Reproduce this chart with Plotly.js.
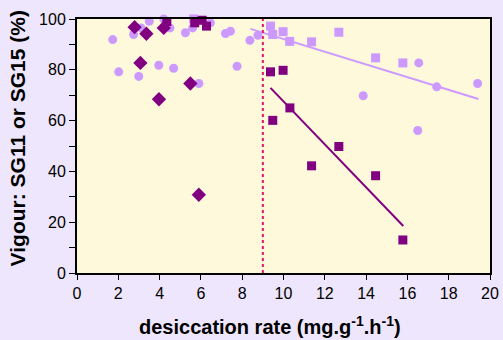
<!DOCTYPE html>
<html>
<head>
<meta charset="utf-8">
<script src="https://cdn.plot.ly/plotly-3.0.1.min.js"></script>
<style>html,body{margin:0;padding:0;background:#EEE6FC;}</style>
</head>
<body>
<div id="chart" style="width:503px;height:340px;"></div>
<script>
// Light circles
var lcX = [1.73, 2.02, 2.99, 2.74, 3.1, 3.5, 3.96, 4.2, 4.5, 4.68, 5.25, 5.6, 5.9, 6.46, 7.19, 7.43, 7.75, 8.37, 8.76, 13.86, 16.55, 16.5, 17.42, 19.4];
var lcY = [91.9, 79.2, 77.4, 93.9, 96.5, 99.1, 81.8, 100, 96.5, 80.6, 94.6, 96.5, 74.6, 98.5, 94.3, 95.2, 81.4, 91.6, 93.6, 69.8, 82.7, 56.1, 73.3, 74.6];
// Light squares
var lsX = [5.65, 9.37, 9.48, 9.98, 10.3, 11.36, 12.68, 14.46, 15.78];
var lsY = [100, 97.2, 93.9, 95.0, 91.2, 91.0, 94.8, 84.7, 82.7];
// Dark diamonds
var ddX = [2.79, 3.07, 3.36, 3.97, 4.2, 5.49, 5.9];
var ddY = [96.8, 82.7, 94.2, 68.4, 96.5, 74.6, 30.8];
// Dark squares
var dsX = [4.35, 5.7, 6.06, 6.27, 9.37, 9.48, 9.98, 10.31, 11.36, 12.68, 14.46, 15.78];
var dsY = [99, 98.5, 99.5, 97.2, 79.2, 60.1, 79.8, 65.0, 42.2, 49.8, 38.3, 13.0];
// Trend lines
var lightTrendX = [8.4, 19.44];
var lightTrendY = [96.1, 68.5];
var darkTrendX = [9.37, 15.8];
var darkTrendY = [72.9, 18.5];
// Threshold
var thresholdX = 9.0;

var light = '#CC99FF', dark = '#800080';

var traces = [
  {x: lightTrendX, y: lightTrendY, mode: 'lines', line: {color: light, width: 2}, cliponaxis: false},
  {x: darkTrendX, y: darkTrendY, mode: 'lines', line: {color: dark, width: 2}, cliponaxis: false},
  {x: [thresholdX, thresholdX], y: [0, 100], mode: 'lines', line: {color: '#E0186C', width: 2, dash: 'dot'}},
  {x: lcX, y: lcY, mode: 'markers', marker: {symbol: 'circle', size: 9, color: light}, cliponaxis: false},
  {x: lsX, y: lsY, mode: 'markers', marker: {symbol: 'square', size: 9, color: light}, cliponaxis: false},
  {x: ddX, y: ddY, mode: 'markers', marker: {symbol: 'diamond', size: 11, color: dark}, cliponaxis: false},
  {x: dsX, y: dsY, mode: 'markers', marker: {symbol: 'square', size: 9, color: dark}, cliponaxis: false}
];

var layout = {
  width: 503, height: 340,
  margin: {l: 77, r: 13, t: 19, b: 67},
  paper_bgcolor: '#EEE6FC',
  plot_bgcolor: '#FFF9DC',
  showlegend: false,
  font: {family: 'Liberation Sans, Arial, sans-serif', color: '#000', size: 16},
  xaxis: {
    range: [0, 20], dtick: 2, tick0: 0, ticks: 'outside', ticklen: 5, tickcolor: '#000',
    showgrid: false, zeroline: false, showline: true, linecolor: '#000', linewidth: 2, mirror: true,
    tickfont: {size: 16}
  },
  yaxis: {
    range: [0, 100], dtick: 20, tick0: 0, ticks: 'outside', ticklen: 6, tickcolor: '#000',
    minor: {dtick: 10, ticks: 'outside', ticklen: 6, tickcolor: '#000'},
    showgrid: false, zeroline: false, showline: true, linecolor: '#000', linewidth: 2, mirror: true,
    tickfont: {size: 16}
  },
  annotations: [{
    text: '<b>Vigour: SG11 or SG15 (%)</b>', textangle: -90, showarrow: false,
    xref: 'paper', yref: 'paper', x: 0, y: 0.53, xanchor: 'center', yanchor: 'middle',
    xshift: -60, font: {size: 21}
  }, {
    text: '<b>desiccation rate (mg.g<sup>-1</sup>.h<sup>-1</sup>)</b>', showarrow: false,
    xref: 'paper', yref: 'paper', x: 0.467, y: 0, xanchor: 'center', yanchor: 'middle',
    yshift: -52, font: {size: 20}
  }]
};

Plotly.newPlot('chart', traces, layout, {displayModeBar: false, staticPlot: true});
</script>
</body>
</html>
